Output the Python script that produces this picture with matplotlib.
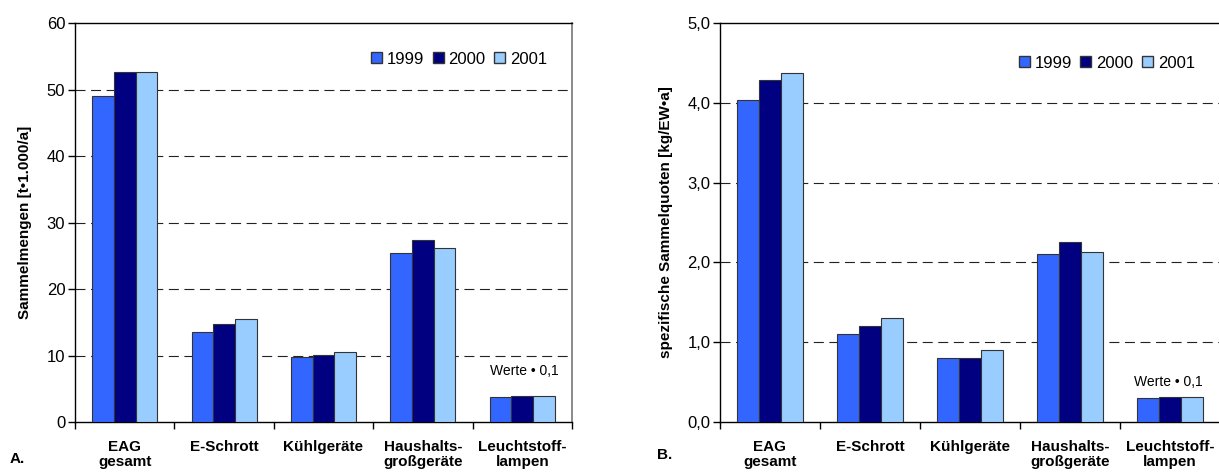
import numpy as np
import matplotlib
matplotlib.use("Agg")
import matplotlib.pyplot as plt
from matplotlib.patches import Patch

plt.rcParams['font.family'] = ['Liberation Sans', 'DejaVu Sans']

categories = ["EAG\ngesamt", "E-Schrott", "Kühlgeräte", "Haushalts-\ngroßgeräte", "Leuchtstoff-\nlampen"]
years = ["1999", "2000", "2001"]
colors = ["#3366FF", "#000080", "#99CCFF"]

# A: Sammelmengen [t*1000/a]
mengen_1999 = [49.0, 13.5, 9.7, 25.4, 3.8]
mengen_2000 = [52.6, 14.7, 10.1, 27.3, 3.9]
mengen_2001 = [52.6, 15.5, 10.5, 26.1, 3.9]

# B: spezifische Sammelquoten [kg/EW*a]
quoten_1999 = [4.03, 1.10, 0.80, 2.10, 0.30]
quoten_2000 = [4.28, 1.20, 0.80, 2.25, 0.31]
quoten_2001 = [4.37, 1.30, 0.90, 2.13, 0.31]


def panel(ax, series, ymax, ystep, fmt, ylabel, label_x, note_xy, leg_y):
    x = np.arange(len(categories))
    w = 0.218
    for i, (vals, c, yr) in enumerate(zip(series, colors, years)):
        ax.bar(x + (i - 1) * w, vals, w, color=c, edgecolor="#333333",
               linewidth=0.8, zorder=3, label=yr)
    ax.set_xlim(-0.5, len(categories) - 0.5)
    ax.set_ylim(0, ymax)
    yt = np.arange(0, ymax + ystep / 2, ystep)
    ax.set_yticks(yt)
    ax.set_yticklabels([fmt(v) for v in yt], fontsize=12)
    for v in yt[1:-1]:
        ax.axhline(v, color="#222222", linestyle=(0, (9, 5)), linewidth=0.8, zorder=1)
    ax.set_xticks(np.arange(-0.5, len(categories), 1.0))
    ax.set_xticklabels([])
    ax.set_xticks(x, minor=True)
    ax.set_xticklabels(categories, minor=True, fontsize=11, fontweight="bold",
                       linespacing=1.1)
    ax.tick_params(axis="x", which="minor", length=0, pad=13)
    ax.tick_params(axis="x", which="major", length=5, direction="out", width=1)
    ax.tick_params(axis="y", length=5, direction="out", pad=2, width=1)
    for side in ("left", "bottom", "top"):
        ax.spines[side].set_color("black")
        ax.spines[side].set_linewidth(1.0)
    ax.spines["right"].set_color("#777777")
    ax.spines["right"].set_linewidth(1.2)
    ax.set_ylabel(ylabel, fontsize=11, fontweight="bold")
    ax.yaxis.set_label_coords(label_x, 0.5)
    ax.text(note_xy[0], note_xy[1], "Werte • 0,1", ha="center", va="center", fontsize=10)
    handles = [Patch(facecolor=c, edgecolor="#333333", label=yr) for c, yr in zip(colors, years)]
    ax.legend(handles=handles, ncol=3, loc="center right", bbox_to_anchor=(0.95, leg_y),
              frameon=False, fontsize=12, handlelength=0.66, handleheight=0.66,
              handletextpad=0.3, columnspacing=0.5, borderaxespad=0, borderpad=0)


fig = plt.figure(figsize=(12.19, 4.75), dpi=100)
ax1 = fig.add_axes([75 / 1219, 1 - 422 / 475, 497 / 1219, 399 / 475])
ax2 = fig.add_axes([720 / 1219, 1 - 422 / 475, 500 / 1219, 399 / 475])

panel(ax1, [mengen_1999, mengen_2000, mengen_2001], 60, 10, lambda v: f"{v:.0f}",
      "Sammelmengen [t•1.000/a]", -0.087, (4.02, 7.6), (422 - 59) / 399)
panel(ax2, [quoten_1999, quoten_2000, quoten_2001], 5.0, 1.0,
      lambda v: f"{v:.1f}".replace(".", ","),
      "spezifische Sammelquoten [kg/EW•a]", -0.094, (3.98, 0.50), (422 - 63) / 399)

fig.text(10 / 1219, 1 - 459 / 475, "A.", fontsize=11, fontweight="bold", va="center")
fig.text(657 / 1219, 1 - 455 / 475, "B.", fontsize=11, fontweight="bold", va="center")

fig.savefig("out.png", dpi=100)
